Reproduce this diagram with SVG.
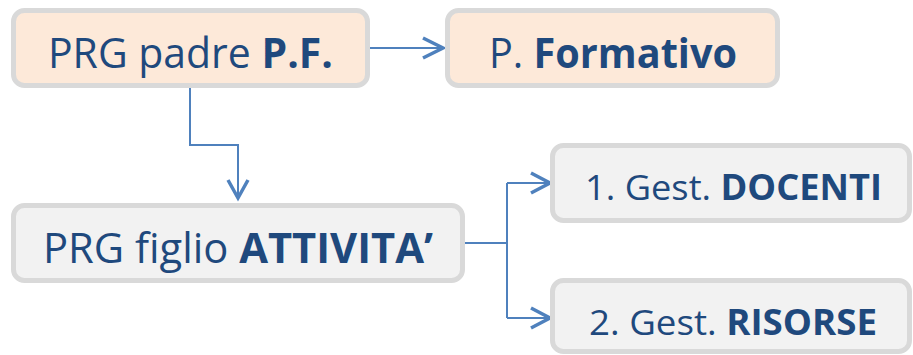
<svg xmlns="http://www.w3.org/2000/svg" width="913" height="355" viewBox="0 0 913 355">
<style>
.box{stroke:#d9d9d9;stroke-width:5}
.peach{fill:#fde9d9}
.gray{fill:#f2f2f2}
.t{font-family:"Open Sans","Liberation Sans",sans-serif;fill:#1f497d}
.big{font-size:42px}
.small{font-size:35px}
.b{font-weight:bold}
.c{fill:none;stroke:#4f81bd;stroke-width:2}
.h{fill:none;stroke:#4f81bd;stroke-width:3.5;stroke-linejoin:miter}
</style>
<g id="connectors">
<path class="c" d="M370 48H443"/>
<path class="h" d="M423 38L443 48L423 58"/>
<path class="c" d="M190 88V145H238V198"/>
<path class="h" d="M228 180L238 198L248 180"/>
<path class="c" d="M465 243H507M507 183V318M507 183H550M507 318H550"/>
<path class="h" d="M531 173L550 183L531 193"/>
<path class="h" d="M531 308L550 318L531 328"/>
</g>
<g id="node-padre">
<rect class="box peach" x="13.5" y="10.5" width="354" height="75" rx="11"/>
<text class="t big" x="48" y="68" textLength="285" lengthAdjust="spacingAndGlyphs">PRG padre <tspan class="b">P.F.</tspan></text>
</g>
<g id="node-formativo">
<rect class="box peach" x="447.5" y="10.5" width="330" height="75" rx="11"/>
<text class="t big" x="489" y="68" textLength="248" lengthAdjust="spacingAndGlyphs">P. <tspan class="b">Formativo</tspan></text>
</g>
<g id="node-figlio">
<rect class="box gray" x="13.5" y="205.5" width="449" height="75" rx="11"/>
<text class="t big" x="43" y="263" textLength="390" lengthAdjust="spacingAndGlyphs">PRG figlio <tspan class="b">ATTIVITA’</tspan></text>
</g>
<g id="node-docenti">
<rect class="box gray" x="552.5" y="145.5" width="357" height="75" rx="11"/>
<text class="t small" x="585" y="200" textLength="297" lengthAdjust="spacingAndGlyphs">1. Gest. <tspan class="b">DOCENTI</tspan></text>
</g>
<g id="node-risorse">
<rect class="box gray" x="552.5" y="280.5" width="357" height="71" rx="11"/>
<text class="t small" x="589" y="335" textLength="288" lengthAdjust="spacingAndGlyphs">2. Gest. <tspan class="b">RISORSE</tspan></text>
</g>
</svg>
